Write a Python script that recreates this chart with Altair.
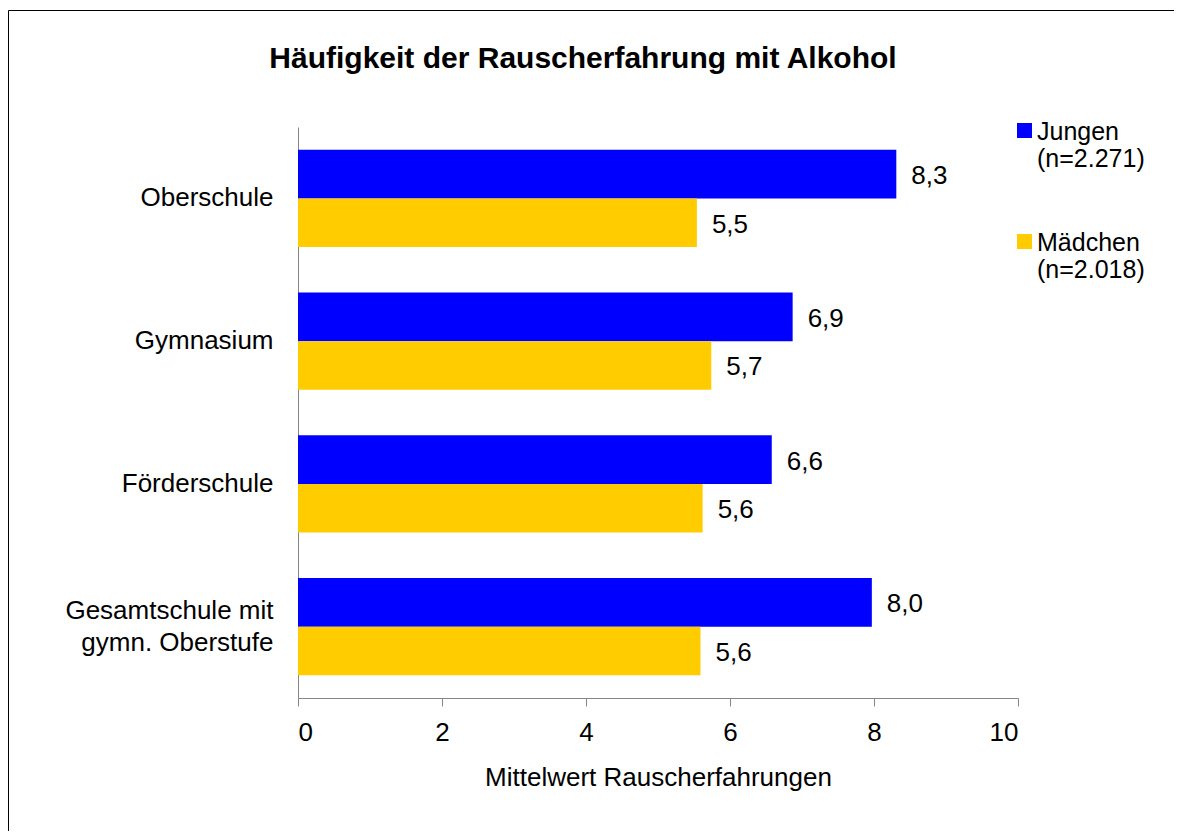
import altair as alt
import pandas as pd

schools = ["Oberschule", "Gymnasium", "Förderschule", "Gesamtschule mit|gymn. Oberstufe"]
jungen = [8.31, 6.87, 6.58, 7.97]
maedchen = [5.54, 5.74, 5.62, 5.59]
groups = ["Jungen|(n=2.271)", "Mädchen|(n=2.018)"]
colors = ["#0000FF", "#FFCC00"]
x_ticks = [0, 2, 4, 6, 8, 10]

rows = []
for s, j, m in zip(schools, jungen, maedchen):
    rows.append({"school": s, "group": groups[0], "value": j})
    rows.append({"school": s, "group": groups[1], "value": m})
df = pd.DataFrame(rows)

FONT = "Liberation Sans, Arial, sans-serif"

y_enc = alt.Y("school:N", sort=schools,
              scale=alt.Scale(paddingInner=0.32, paddingOuter=0.16),
              axis=alt.Axis(title=None, ticks=False, domainColor="#868686",
                            labelFontSize=26, labelFont=FONT, labelColor="black",
                            labelPadding=25, labelLineHeight=32, labelLimit=0,
                            labelOffset={"condition": {"test": "datum.value == '" + schools[3] + "'",
                                                       "value": -16}, "value": 0},
                            labelExpr="split(datum.label, '|')"))
x_enc = alt.X("value:Q", scale=alt.Scale(domain=[0, 10], nice=False),
              axis=alt.Axis(values=x_ticks, format="d", grid=False,
                            title="Mittelwert Rauscherfahrungen",
                            titleFontSize=26, titleFont=FONT, titleFontWeight="normal",
                            titleColor="black", titlePadding=19,
                            labelFontSize=26, labelFont=FONT, labelColor="black",
                            labelPadding=13, tickSize=8, tickColor="#868686",
                            domainColor="#868686"))
yoff = alt.YOffset("group:N", sort=groups)

bars = alt.Chart(df).mark_bar(stroke=None).encode(
    x=x_enc, y=y_enc, yOffset=yoff,
    color=alt.Color("group:N", sort=groups,
                    scale=alt.Scale(domain=groups, range=colors),
                    legend=alt.Legend(title=None, orient="none", legendX=714, legendY=0,
                                      symbolType="M-1,-2.2H1V-0.2H-1Z", symbolSize=225,
                                      symbolStrokeWidth=0, symbolOpacity=1,
                                      labelFontSize=25, labelFont=FONT, labelColor="black",
                                      labelExpr="split(datum.label, '|')",
                                      labelBaseline="alphabetic", labelOffset=0, labelLimit=0,
                                      rowPadding=58, padding=0)),
)

labels = alt.Chart(df).transform_calculate(
    txt="replace(format(datum.value, '.1f'), '.', ',')"
).mark_text(align="left", baseline="middle", dx=15, dy=2, fontSize=26, font=FONT,
            color="black").encode(
    x="value:Q", y=alt.Y("school:N", sort=schools), yOffset=yoff, text="txt:N"
)

one = pd.DataFrame({"a": [0]})
frame_top = alt.Chart(one).mark_rule(color="black", strokeWidth=1).encode(
    x=alt.value(-289.5), x2=alt.value(876), y=alt.value(-116.5)
)
frame_left = alt.Chart(one).mark_rule(color="black", strokeWidth=1).encode(
    x=alt.value(-289.5), y=alt.value(-116.5), y2=alt.value(704)
)

chart = alt.layer(frame_top, frame_left, bars, labels).properties(
    width=720, height=571,
    autosize=alt.AutoSizeParams(type="none"),
    padding={"left": 290, "top": 119, "right": 157, "bottom": 134},
    title=alt.TitleParams("Häufigkeit der Rauscherfahrung mit Alkohol",
                          fontSize=30, font=FONT, fontWeight="bold", color="black",
                          anchor="middle", frame="group", dx=-75, offset=-87.5,
                          baseline="alphabetic"),
).configure_view(stroke=None)

chart.save("out.html", embed_options={"renderer": "svg", "actions": False})
